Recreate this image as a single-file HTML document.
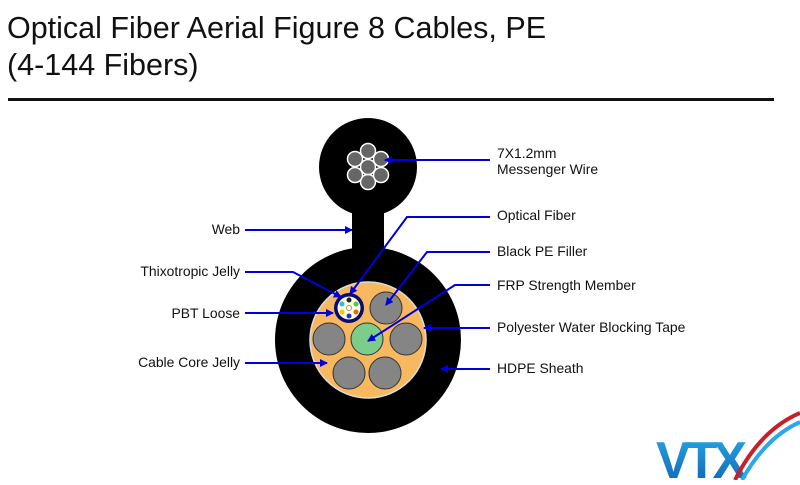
<!DOCTYPE html>
<html><head><meta charset="utf-8"><style>
body{margin:0;background:#fff;width:800px;height:480px;overflow:hidden;font-family:"Liberation Sans",sans-serif}
</style></head><body>
<svg width="800" height="480" viewBox="0 0 800 480" xmlns="http://www.w3.org/2000/svg" font-family="Liberation Sans, sans-serif">
<defs>
<marker id="a" markerWidth="8" markerHeight="8" refX="7" refY="4" orient="auto" markerUnits="userSpaceOnUse"><path d="M0,0 L8,4 L0,8 z" fill="#0000dd"/></marker>
<linearGradient id="g" x1="0" y1="0" x2="0" y2="1"><stop offset="0" stop-color="#29a8e8"/><stop offset="1" stop-color="#1060b0"/></linearGradient>
</defs>
<text x="7" y="38" font-size="30.5" fill="#111">Optical Fiber Aerial Figure 8 Cables, PE</text>
<text x="7" y="75" font-size="30.5" fill="#111">(4-144 Fibers)</text>
<rect x="8" y="98" width="766" height="3" fill="#111"/>
<!-- cable -->
<circle cx="368" cy="167" r="49" fill="#000"/>
<rect x="352" y="205" width="32" height="60" fill="#000"/>
<circle cx="368" cy="340" r="93" fill="#000"/>
<g fill="#666" stroke="#fff" stroke-width="1.5">
<circle cx="368" cy="151" r="7.5"/><circle cx="368" cy="182" r="7.5"/>
<circle cx="355" cy="159" r="7.5"/><circle cx="381" cy="159" r="7.5"/>
<circle cx="355" cy="175" r="7.5"/><circle cx="381" cy="175" r="7.5"/>
<circle cx="368" cy="167" r="7.5"/>
</g>
<circle cx="368" cy="340" r="58" fill="#f7b860" stroke="#ddd" stroke-width="1.5"/>
<g fill="#858585" stroke="#333" stroke-width="1">
<circle cx="386" cy="308" r="16"/><circle cx="329" cy="339" r="16"/><circle cx="406" cy="339" r="16"/>
<circle cx="349" cy="373" r="16"/><circle cx="385" cy="373" r="16"/>
</g>
<circle cx="367" cy="339" r="16" fill="#7ccc8a" stroke="#333"/>
<circle cx="349" cy="308" r="15" fill="#0a0a70"/>
<circle cx="349" cy="308" r="11.5" fill="#fffbe0"/>
<circle cx="349" cy="308" r="2.5" fill="none" stroke="#999"/>
<circle cx="349" cy="300" r="2.5" fill="#222"/><circle cx="356" cy="304" r="2.5" fill="#4c4"/>
<circle cx="356" cy="312" r="2.5" fill="#e60"/><circle cx="349" cy="316" r="2.5" fill="#23c"/>
<circle cx="342" cy="312" r="2.5" fill="#ec0"/><circle cx="342" cy="304" r="2.5" fill="#3bd"/>
<!-- arrows -->
<g stroke="#0000dd" stroke-width="2" fill="none" marker-end="url(#a)">
<path d="M490,160 L385,160"/>
<path d="M490,217 L407,217 L350,294"/>
<path d="M490,252 L427,252 L386,305"/>
<path d="M490,285 L455,285 L368,341"/>
<path d="M490,328 L424,328"/>
<path d="M490,369 L441,369"/>
<path d="M245,230 L352,230"/>
<path d="M245,272 L293,272 L341,297"/>
<path d="M245,313 L333,313"/>
<path d="M245,363 L327,363"/>
</g>
<g font-size="13.9" fill="#111">
<text x="497" y="158">7X1.2mm</text><text x="497" y="174">Messenger Wire</text>
<text x="497" y="220">Optical Fiber</text>
<text x="497" y="256">Black PE Filler</text>
<text x="497" y="290">FRP Strength Member</text>
<text x="497" y="332">Polyester Water Blocking Tape</text>
<text x="497" y="373">HDPE Sheath</text>
<g text-anchor="end">
<text x="240" y="234">Web</text>
<text x="240" y="276">Thixotropic Jelly</text>
<text x="240" y="318">PBT Loose</text>
<text x="240" y="367">Cable Core Jelly</text>
</g>
</g>
<!-- logo -->
<text x="656" y="478" font-size="52" font-weight="bold" fill="url(#g)" letter-spacing="-5">VTX</text>
<path d="M735,480 Q760,430 800,413" stroke="#c8202a" stroke-width="4" fill="none"/>
<path d="M742,480 Q765,438 800,422" stroke="#2aa8e8" stroke-width="4" fill="none"/>
</svg>
</body></html>
